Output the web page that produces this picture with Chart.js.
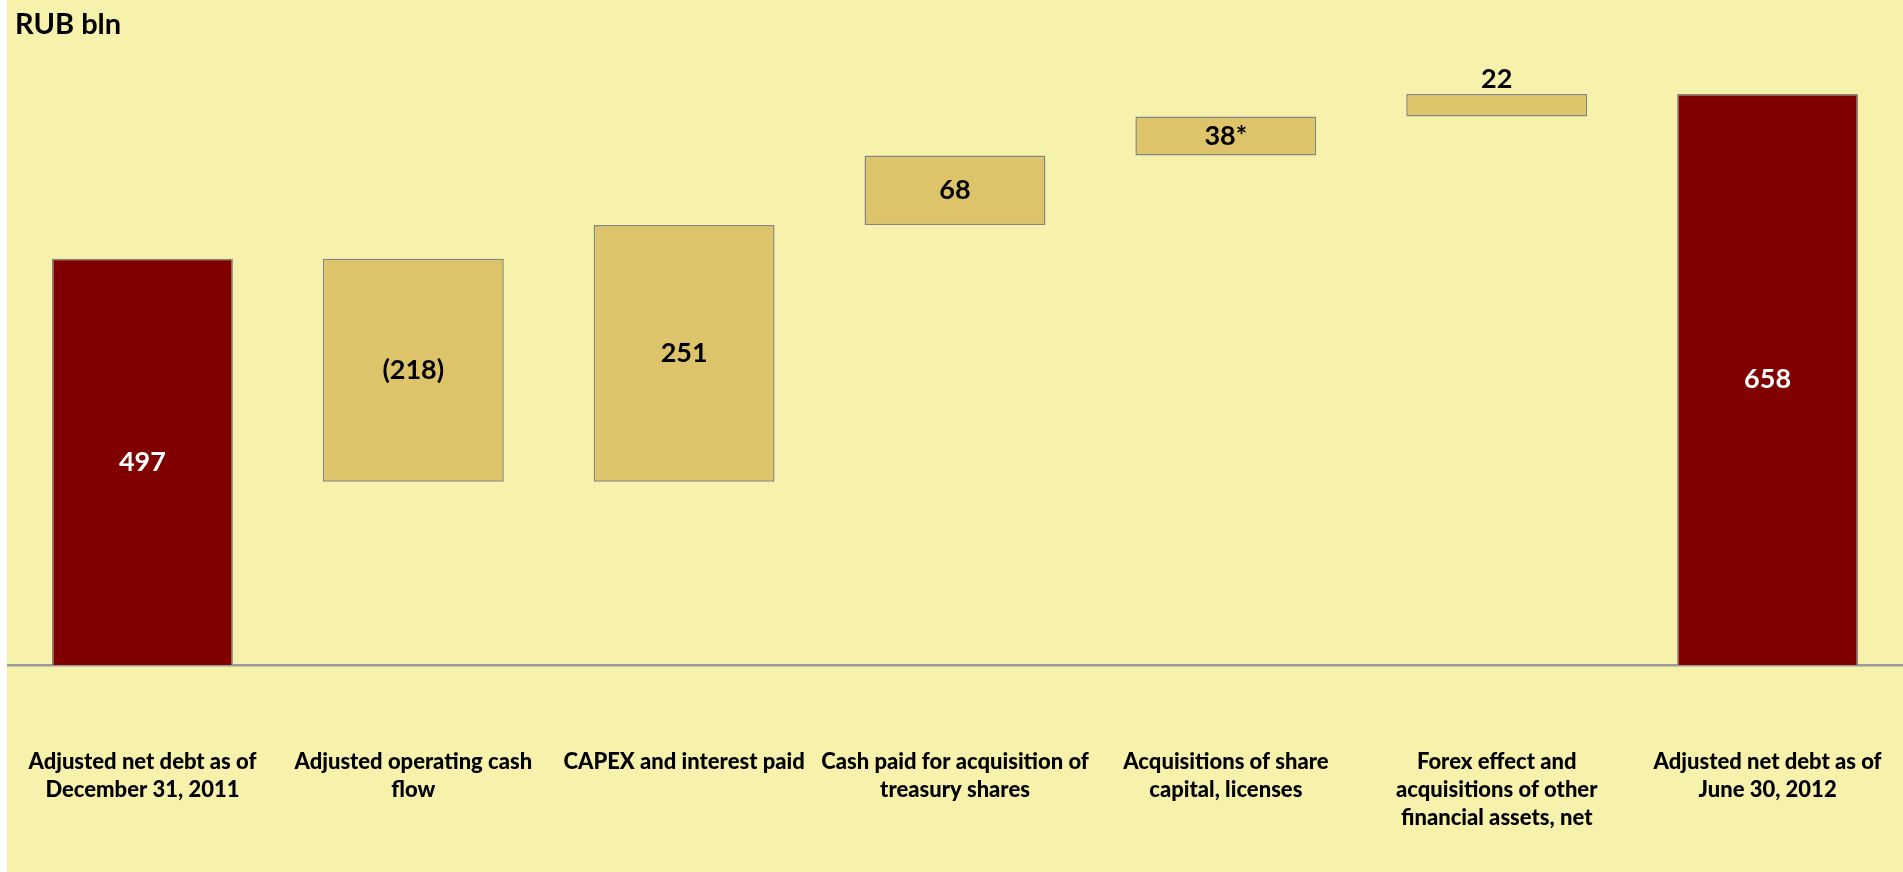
<!DOCTYPE html>
<html>
<head>
<meta charset="utf-8">
<script src="https://cdn.jsdelivr.net/npm/chart.js@4/dist/chart.umd.min.js"></script>
<style>
  html, body { margin: 0; padding: 0; background: #ffffff; }
  #wrap {
    position: absolute;
    left: 7px;
    top: 0;
    width: 1896px;
    height: 872px;
    background: #f7f2ab;
  }
</style>
</head>
<body>
<div id="wrap"><canvas id="bridge"></canvas></div>
<script>
// net debt bridge, RUB bln
const unitTitle = 'RUB bln';
const categories = [
  ['Adjusted net debt as of', 'December 31, 2011'],
  ['Adjusted operating cash', 'flow'],
  'CAPEX and interest paid',
  ['Cash paid for acquisition of', 'treasury shares'],
  ['Acquisitions of share', 'capital, licenses'],
  ['Forex effect and', 'acquisitions of other', 'financial assets, net'],
  ['Adjusted net debt as of', 'June 30, 2012'],
];
const values = [497, -218, 251, 68, 38, 22, 658];
const isTotal = [true, false, false, false, false, false, true];
const valueLabels = ['497', '(218)', '251', '68', '38*', '22', '658'];

const TOTAL_COLOR = '#800000';
const STEP_COLOR = '#ddc369';
const FONT = 'Lato, "Open Sans", sans-serif';

// floating ranges for the waterfall
let running = 0;
const ranges = values.map((v, i) => {
  if (isTotal[i]) {
    running = v;
    return [0, v];
  }
  const start = running;
  running += v;
  return [start, running];
});

const labelsPlugin = {
  id: 'bridgeLabels',
  afterDatasetsDraw(chart) {
    const { ctx, chartArea } = chart;
    const meta = chart.getDatasetMeta(0);
    ctx.save();

    ctx.font = `bold 29px ${FONT}`;
    ctx.fillStyle = '#000000';
    ctx.textAlign = 'left';
    ctx.textBaseline = 'alphabetic';
    ctx.fillText(unitTitle, 8, 34);

    ctx.font = `bold 27px ${FONT}`;
    ctx.textAlign = 'center';
    ctx.textBaseline = 'middle';
    meta.data.forEach((bar, i) => {
      const top = Math.min(bar.y, bar.base);
      const bottom = Math.min(Math.max(bar.y, bar.base), chartArea.bottom);
      let y = (top + bottom) / 2;
      if (bottom - top < 30) y = top - 15;
      ctx.fillStyle = isTotal[i] ? '#ffffff' : '#000000';
      ctx.fillText(valueLabels[i], bar.x, y);
    });
    ctx.restore();
  },
};

new Chart(document.getElementById('bridge'), {
  type: 'bar',
  data: {
    labels: categories,
    datasets: [{
      data: ranges,
      backgroundColor: isTotal.map(t => (t ? TOTAL_COLOR : STEP_COLOR)),
      borderColor: '#858585',
      borderWidth: 1.5,
      borderSkipped: false,
      barPercentage: 0.668,
      categoryPercentage: 1,
    }],
  },
  options: {
    responsive: true,
    maintainAspectRatio: false,
    animation: false,
    layout: { padding: { top: 51, left: 0, right: 0, bottom: 0 } },
    plugins: {
      legend: { display: false },
      tooltip: { enabled: false },
    },
    scales: {
      x: {
        grid: { display: false, drawTicks: false },
        border: { display: true, color: '#9a9a9a', width: 2.5 },
        ticks: {
          color: '#000000',
          font: { family: FONT, size: 22, weight: '900', lineHeight: 1.27 },
          padding: 83,
          autoSkip: false,
          maxRotation: 0,
        },
        afterFit(scale) {
          scale.height = 207;
          scale.paddingLeft = 0;
          scale.paddingRight = 0;
        },
      },
      y: {
        display: false,
        min: 100,
        max: 700,
      },
    },
  },
  plugins: [labelsPlugin],
});
</script>
</body>
</html>
